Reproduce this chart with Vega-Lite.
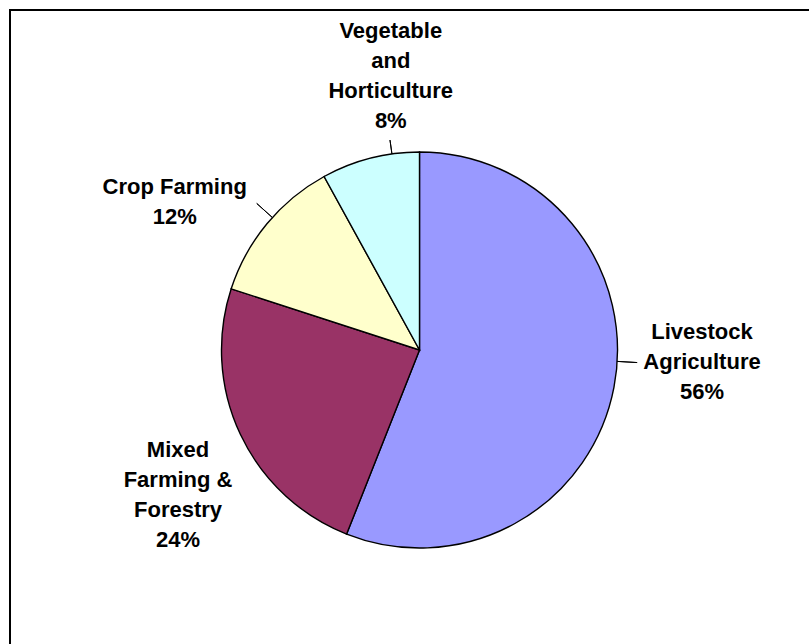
{
  "$schema": "https://vega.github.io/schema/vega-lite/v6.json",
  "width": 819,
  "height": 680,
  "autosize": {"type": "none"},
  "padding": {"left": 10, "top": 10, "right": -20, "bottom": -46},
  "background": "white",
  "config": {
    "view": {"stroke": null},
    "text": {"font": "Liberation Sans", "fontSize": 22, "fontWeight": "bold", "lineHeight": 30, "align": "center", "baseline": "middle", "lineBreak": "\n", "color": "black"}
  },
  "data": {
    "values": [
      {"cat": "Livestock Agriculture", "value": 56, "idx": 1, "label": "Livestock\nAgriculture\n56%"},
      {"cat": "Mixed Farming & Forestry", "value": 24, "idx": 2, "label": "Mixed\nFarming &\nForestry\n24%"},
      {"cat": "Crop Farming", "value": 12, "idx": 3, "label": "Crop Farming\n12%"},
      {"cat": "Vegetable and Horticulture", "value": 8, "idx": 4, "label": "Vegetable\nand\nHorticulture\n8%"}
    ]
  },
  "layer": [
    {
      "data": {"values": [{"frame": 1}]},
      "mark": {"type": "rect", "fillOpacity": 0, "stroke": "black", "strokeWidth": 2}
    },
    {
      "mark": {"type": "arc", "radius": 198, "stroke": "black", "strokeWidth": 1.4},
      "encoding": {
        "theta": {"field": "value", "type": "quantitative", "stack": true},
        "order": {"field": "idx", "type": "quantitative", "sort": "ascending"},
        "color": {
          "field": "cat", "type": "nominal",
          "scale": {
            "domain": ["Livestock Agriculture", "Mixed Farming & Forestry", "Crop Farming", "Vegetable and Horticulture"],
            "range": ["#9999FF", "#993366", "#FFFFCC", "#CCFFFF"]
          },
          "legend": null
        }
      }
    },
    {
      "transform": [{"stack": "value", "groupby": [], "sort": [{"field": "idx", "order": "ascending"}], "as": ["v0", "v1"]}],
      "mark": {"type": "arc", "radius": 212, "radius2": 198, "thetaOffset": 0.36303, "theta2Offset": -0.13963, "fillOpacity": 0, "stroke": "black", "strokeWidth": 1},
      "encoding": {
        "theta": {"field": "v0", "type": "quantitative"},
        "theta2": {"field": "v1"},
        "strokeOpacity": {"condition": {"test": "datum.idx === 4", "value": 1}, "value": 0}
      }
    },
    {
      "transform": [{"stack": "value", "groupby": [], "sort": [{"field": "idx", "order": "ascending"}], "as": ["v0", "v1"]}],
      "mark": {"type": "arc", "radius": 219, "radius2": 198, "thetaOffset": 0.41888, "theta2Offset": -0.33510, "fillOpacity": 0, "stroke": "black", "strokeWidth": 1},
      "encoding": {
        "theta": {"field": "v0", "type": "quantitative"},
        "theta2": {"field": "v1"},
        "strokeOpacity": {"condition": {"test": "datum.idx === 3", "value": 1}, "value": 0}
      }
    },
    {
      "transform": [{"stack": "value", "groupby": [], "sort": [{"field": "idx", "order": "ascending"}], "as": ["v0", "v1"]}],
      "mark": {"type": "arc", "radius": 218, "radius2": 198, "thetaOffset": 1.62839, "theta2Offset": -1.89019, "fillOpacity": 0, "stroke": "black", "strokeWidth": 1},
      "encoding": {
        "theta": {"field": "v0", "type": "quantitative"},
        "theta2": {"field": "v1"},
        "strokeOpacity": {"condition": {"test": "datum.idx === 1", "value": 1}, "value": 0}
      }
    },
    {
      "mark": {"type": "text", "radius": 282, "dx": 5.5, "dy": -71},
      "encoding": {
        "theta": {"field": "value", "type": "quantitative", "stack": true},
        "order": {"field": "idx", "type": "quantitative", "sort": "ascending"},
        "text": {"condition": {"test": "datum.idx === 1", "field": "label"}, "value": ""}
      }
    },
    {
      "mark": {"type": "text", "radius": 282, "dx": 13.7, "dy": -19.6},
      "encoding": {
        "theta": {"field": "value", "type": "quantitative", "stack": true},
        "order": {"field": "idx", "type": "quantitative", "sort": "ascending"},
        "text": {"condition": {"test": "datum.idx === 2", "field": "label"}, "value": ""}
      }
    },
    {
      "mark": {"type": "text", "radius": 282, "dx": -27.5, "dy": 17.1},
      "encoding": {
        "theta": {"field": "value", "type": "quantitative", "stack": true},
        "order": {"field": "idx", "type": "quantitative", "sort": "ascending"},
        "text": {"condition": {"test": "datum.idx === 3", "field": "label"}, "value": ""}
      }
    },
    {
      "mark": {"type": "text", "radius": 282, "dx": 41.4, "dy": -45.9},
      "encoding": {
        "theta": {"field": "value", "type": "quantitative", "stack": true},
        "order": {"field": "idx", "type": "quantitative", "sort": "ascending"},
        "text": {"condition": {"test": "datum.idx === 4", "field": "label"}, "value": ""}
      }
    }
  ]
}
